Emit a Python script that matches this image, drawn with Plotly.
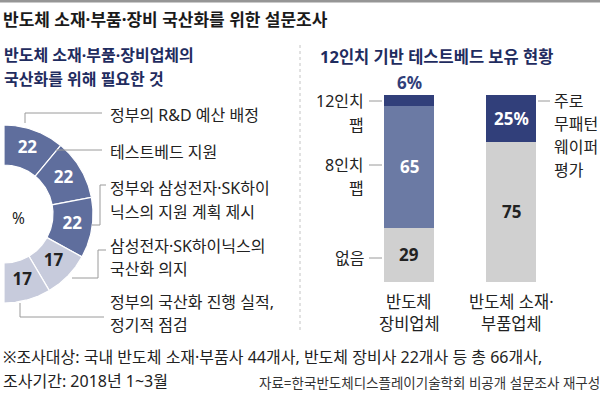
import numpy as np
import plotly.graph_objects as go

# ---------------- data ----------------
title_main = "반도체 소재·부품·장비 국산화를 위한 설문조사"
left_title = ["반도체 소재·부품·장비업체의", "국산화를 위해 필요한 것"]
right_title = "12인치 기반 테스트베드 보유 현황"

need_values = [22, 22, 22, 17, 17]
need_labels = [
    ["정부의 R&D 예산 배정"],
    ["테스트베드 지원"],
    ["정부와 삼성전자·SK하이", "닉스의 지원 계획 제시"],
    ["삼성전자·SK하이닉스의", "국산화 의지"],
    ["정부의 국산화 진행 실적,", "정기적 점검"],
]

bar_categories = ["반도체<br>장비업체", "반도체 소재·<br>부품업체"]
bar_cat_lines = [["반도체", "장비업체"], ["반도체 소재·", "부품업체"]]
share_none = [29, 75]      # 없음 / (right: other)
share_8inch = [65, 0]      # 8인치 팹
share_12inch = [6, 25]     # 12인치 팹 / 주로 무패턴 웨이퍼 평가

left_bar_labels = [["12인치", "팹"], ["8인치", "팹"], ["없음"]]
right_bar_label = ["주로", "무패턴", "웨이퍼", "평가"]

footnote = ["※조사대상: 국내 반도체 소재·부품사 44개사, 반도체 장비사 22개사 등 총 66개사,",
            "조사기간: 2018년 1~3월"]
source = "자료=한국반도체디스플레이기술학회 비공개 설문조사 재구성"

# ---------------- style ----------------
FONT = "Noto Sans, Noto Sans CJK KR"
NAVY = "#313f7a"
MID = "#6b7aa4"
DONUT_DARK = "#5f6e9d"
DONUT_LIGHT = "#c7cbdc"
GRAY = "#d0d0d0"
TXT = "#222222"
TITLE_NAVY = "#1f2c5f"
LINE = "#9a9a9a"

W, H = 600, 394
CX, CY, R_OUT, R_IN = 4, 214, 89, 49

fig = go.Figure()

# ---------------- donut (half ring, right side) ----------------
total = sum(need_values)
cum = 0
donut_cols = [DONUT_DARK if v >= 20 else DONUT_LIGHT for v in need_values]
txt_cols = ["white" if v >= 20 else TXT for v in need_values]
for v, col, tc in zip(need_values, donut_cols, txt_cols):
    a0 = np.deg2rad(cum / total * 180)
    a1 = np.deg2rad((cum + v) / total * 180)
    th = np.linspace(a0, a1, 60)
    xo = CX + R_OUT * np.sin(th)
    yo = CY - R_OUT * np.cos(th)
    xi = CX + R_IN * np.sin(th[::-1])
    yi = CY - R_IN * np.cos(th[::-1])
    fig.add_trace(go.Scatter(
        x=np.concatenate([xo, xi, xo[:1]]), y=np.concatenate([yo, yi, yo[:1]]),
        mode="lines", fill="toself", fillcolor=col,
        line=dict(color="white", width=1.2), hoverinfo="skip", showlegend=False,
        xaxis="x", yaxis="y"))
    am = (a0 + a1) / 2
    rm = (R_OUT + R_IN) / 2
    fig.add_trace(go.Scatter(
        x=[CX + rm * np.sin(am)], y=[CY - rm * np.cos(am)], mode="text",
        text=[f"<b>{v}</b>"], textfont=dict(family=FONT, size=17, color=tc),
        hoverinfo="skip", showlegend=False, xaxis="x", yaxis="y"))
    cum += v

# ---------------- stacked bars ----------------
for vals, col in [(share_none, GRAY), (share_8inch, MID), (share_12inch, NAVY)]:
    fig.add_trace(go.Bar(
        x=bar_categories, y=vals, marker=dict(color=col, line=dict(width=0)),
        width=0.49, hoverinfo="skip", showlegend=False, xaxis="x2", yaxis="y2"))

annotations = []

def ann(x, y, text, size=15, color=TXT, bold=False, xanchor="left", xref="x", yref="y", yanchor="middle"):
    annotations.append(dict(
        x=x, y=y, xref=xref, yref=yref, text=f"<b>{text}</b>" if bold else text,
        showarrow=False, xanchor=xanchor, yanchor=yanchor,
        font=dict(family=FONT, size=size, color=color)))

# bar value labels computed from data
for i, cat in enumerate(bar_categories):
    base = 0
    segs = [(share_none[i], TXT), (share_8inch[i], "white"), (share_12inch[i], "white")]
    for k, (v, tc) in enumerate(segs):
        if v == 0:
            continue
        is_top = k == 2
        label = f"{v}%" if is_top else str(v)
        if is_top and v < 10:
            annotations.append(dict(x=cat, y=base + v, xref="x2", yref="y2", text=f"<b>{label}</b>",
                                    showarrow=False, yanchor="bottom", yshift=-1,
                                    font=dict(family=FONT, size=17, color=NAVY)))
        else:
            annotations.append(dict(x=cat, y=base + v / 2, xref="x2", yref="y2", text=f"<b>{label}</b>",
                                    showarrow=False, yanchor="middle",
                                    font=dict(family=FONT, size=17, color=tc)))
        base += v

# ---------------- texts ----------------
ann(1, 19, title_main, size=17, color="#1a1a1a", bold=True)
ann(2, 55, left_title[0], size=16, color=TITLE_NAVY, bold=True)
ann(2, 79, left_title[1], size=16, color=TITLE_NAVY, bold=True)
ann(318, 56, right_title, size=16.5, color=TITLE_NAVY, bold=True)
ann(18, 218, "%", size=15.5, color=TXT, xanchor="center")

label_y = [[115], [152], [188, 212], [246, 269], [302, 325]]
for lines, ys in zip(need_labels, label_y):
    for t, yy in zip(lines, ys):
        ann(108, yy, t, size=16)

# bar side labels
left_y = [[101, 125], [165, 188], [258]]
for lines, ys in zip(left_bar_labels, left_y):
    for t, yy in zip(lines, ys):
        ann(366, yy, t, size=16, xanchor="right")
for t, yy in zip(right_bar_label, [101, 124, 147, 170]):
    ann(552, yy, t, size=16)

# category labels under bars
for cat, lines in zip(bar_categories, bar_cat_lines):
    for t, yy in zip(lines, [301, 323]):
        annotations.append(dict(x=cat, y=yy, xref="x2", yref="y", text=t, showarrow=False,
                                xanchor="center", yanchor="middle",
                                font=dict(family=FONT, size=16.5, color=TXT)))

ann(1, 357, footnote[0], size=16)
ann(1, 381, footnote[1], size=16)
annotations.append(dict(x=1, y=(H - 383) / H, xref="paper", yref="paper", text=source,
                        showarrow=False, xanchor="right", yanchor="middle", xshift=2,
                        font=dict(family=FONT, size=13.5, color="#333333")))

# ---------------- shapes ----------------
shapes = []
def seg(x0, y0, x1, y1, color=LINE, width=1, dash=None):
    shapes.append(dict(type="line", x0=x0, y0=y0, x1=x1, y1=y1, xref="x", yref="y",
                       line=dict(color=color, width=width, dash=dash)))

shapes.append(dict(type="rect", x0=0, x1=W, y0=0, y1=2.5, xref="x", yref="y",
                   fillcolor="#969696", line=dict(width=0)))
seg(300, 45, 300, 332, color="#c4c4c4", width=1, dash="dot")

# donut leader lines
seg(25, 123, 25, 113); seg(25, 113, 102, 113)
seg(56, 150, 102, 150)
seg(92, 225, 100, 225); seg(100, 225, 100, 185); seg(100, 185, 106, 185)
seg(72, 278, 98, 278); seg(98, 278, 98, 250); seg(98, 250, 106, 250)
seg(20, 303, 20, 317); seg(20, 317, 104, 317)

# bar leader lines
seg(369, 101, 382, 101)
seg(369, 165, 382, 165)
seg(369, 258, 382, 258)
seg(538, 101, 550, 101)

fig.update_layout(
    width=W, height=H, margin=dict(l=0, r=0, t=0, b=0),
    paper_bgcolor="white", plot_bgcolor="rgba(0,0,0,0)",
    barmode="stack", bargap=0,
    xaxis=dict(domain=[0, 1], range=[0, W], visible=False, fixedrange=True),
    yaxis=dict(domain=[0, 1], range=[H, 0], visible=False, fixedrange=True),
    xaxis2=dict(domain=[358 / W, 562 / W], range=[-0.5, 1.5], visible=False, anchor="y2"),
    yaxis2=dict(domain=[(H - 282) / H, (H - 95) / H], range=[0, 100], visible=False, anchor="x2"),
    annotations=annotations, shapes=shapes, showlegend=False,
)

fig.write_html("out.html", config={"displayModeBar": False},
               post_script="document.body.style.margin='0';document.body.style.overflow='hidden';")
